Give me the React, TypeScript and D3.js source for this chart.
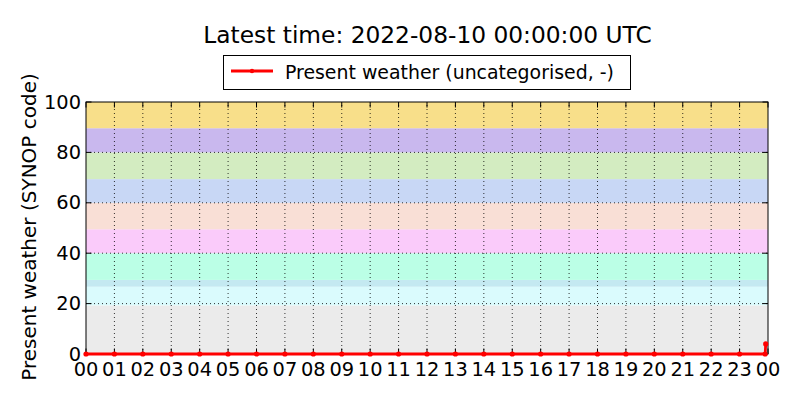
import * as d3 from "d3";

const hourLabels = ["00","01","02","03","04","05","06","07","08","09","10","11","12","13","14","15","16","17","18","19","20","21","22","23","00"];
const yTicks = [0, 20, 40, 60, 80, 100];

// observation times (hours since 00 UTC) and present weather code
const obsTimes = [0,1,2,3,4,5,6,7,8,9,10,11,12,13,14,15,16,17,18,19,20,21,22,23,23.9,23.92];
const obsCodes = [0,0,0,0,0,0,0,0,0,0,0,0,0,0,0,0,0,0,0,0,0,0,0,0,0,4];

// SYNOP code category bands
const bandFrom = [0, 19.3, 26.7, 29.4, 40, 49.5, 60, 69.4, 80, 89.6];
const bandTo = [19.3, 26.7, 29.4, 40, 49.5, 60, 69.4, 80, 89.6, 100];
const bandColors = ["#ebebeb","#dafbfd","#c4e9f1","#bbffe6","#facbfa","#f9dfd6","#c8d7f5","#d3ecc1","#c9b8ee","#f8df8a"];

const W = 800;
const H = 400;
const margin = { top: 102, right: 32, bottom: 46, left: 86 };
const font = "DejaVu Sans";
const fs = 19.4;

export default function App() {
  const x = d3.scaleLinear().domain([0, 24]).range([margin.left, W - margin.right]);
  const y = d3.scaleLinear().domain([0, 100]).range([H - margin.bottom, margin.top]);
  const x0 = x(0), x1 = x(24), y0 = y(0), y1 = y(100);
  const tick = 5.5;

  const line = d3
    .line<number>()
    .x((_, i) => x(obsTimes[i]))
    .y((d) => y(d));

  return (
    <svg width={W} height={H} style={{ position: "absolute", left: 0, top: 0, background: "#fff" }}>
      <text x={427.5} y={43} textAnchor="middle" fontFamily={font} fontSize={23.3} fill="#000">
        Latest time: 2022-08-10 00:00:00 UTC
      </text>

      {bandFrom.map((f, i) => (
        <rect key={i} x={x0} width={x1 - x0} y={y(bandTo[i])} height={y(f) - y(bandTo[i])} fill={bandColors[i]} />
      ))}

      {hourLabels.slice(1, -1).map((_, i) => (
        <line key={"gx" + i} x1={x(i + 1)} x2={x(i + 1)} y1={y0} y2={y1} stroke="#000" strokeWidth={0.8} strokeDasharray="1,3" />
      ))}
      {yTicks.slice(1, -1).map((t) => (
        <line key={"gy" + t} x1={x0} x2={x1} y1={y(t)} y2={y(t)} stroke="#000" strokeWidth={0.8} strokeDasharray="1,3" />
      ))}

      {hourLabels.map((l, i) => (
        <g key={"xt" + i}>
          <line x1={x(i)} x2={x(i)} y1={y0} y2={y0 - tick} stroke="#000" />
          <line x1={x(i)} x2={x(i)} y1={y1} y2={y1 + tick} stroke="#000" />
          <text x={x(i)} y={y0 + 22} textAnchor="middle" fontFamily={font} fontSize={fs} fill="#000">
            {l}
          </text>
        </g>
      ))}
      {yTicks.map((t) => (
        <g key={"yt" + t}>
          <line x1={x0} x2={x0 + tick} y1={y(t)} y2={y(t)} stroke="#000" />
          <line x1={x1} x2={x1 - tick} y1={y(t)} y2={y(t)} stroke="#000" />
          <text x={x0 - 5} y={y(t) + 6.5} textAnchor="end" fontFamily={font} fontSize={fs} fill="#000">
            {t}
          </text>
        </g>
      ))}

      <rect x={x0} y={y1} width={x1 - x0} height={y0 - y1} fill="none" stroke="#000" strokeWidth={1} />

      <path d={line(obsCodes) ?? ""} fill="none" stroke="#ff0000" strokeWidth={2.8} />
      {obsCodes.map((c, i) => (
        <circle key={"p" + i} cx={x(obsTimes[i])} cy={y(c)} r={2.6} fill="#ff0000" />
      ))}

      <text
        transform={`translate(36,${(y0 + y1) / 2 - 1}) rotate(-90)`}
        textAnchor="middle"
        fontFamily={font}
        fontSize={20}
        fill="#000"
      >
        Present weather (SYNOP code)
      </text>

      <g>
        <rect x={223.5} y={55.5} width={407} height={34} fill="#fff" stroke="#000" strokeWidth={1} />
        <line x1={231} x2={273} y1={71} y2={71} stroke="#ff0000" strokeWidth={2.8} />
        <circle cx={252} cy={71} r={2.2} fill="#ff0000" />
        <text x={285} y={78.5} fontFamily={font} fontSize={18.9} fill="#000">
          Present weather (uncategorised, -)
        </text>
      </g>
    </svg>
  );
}
